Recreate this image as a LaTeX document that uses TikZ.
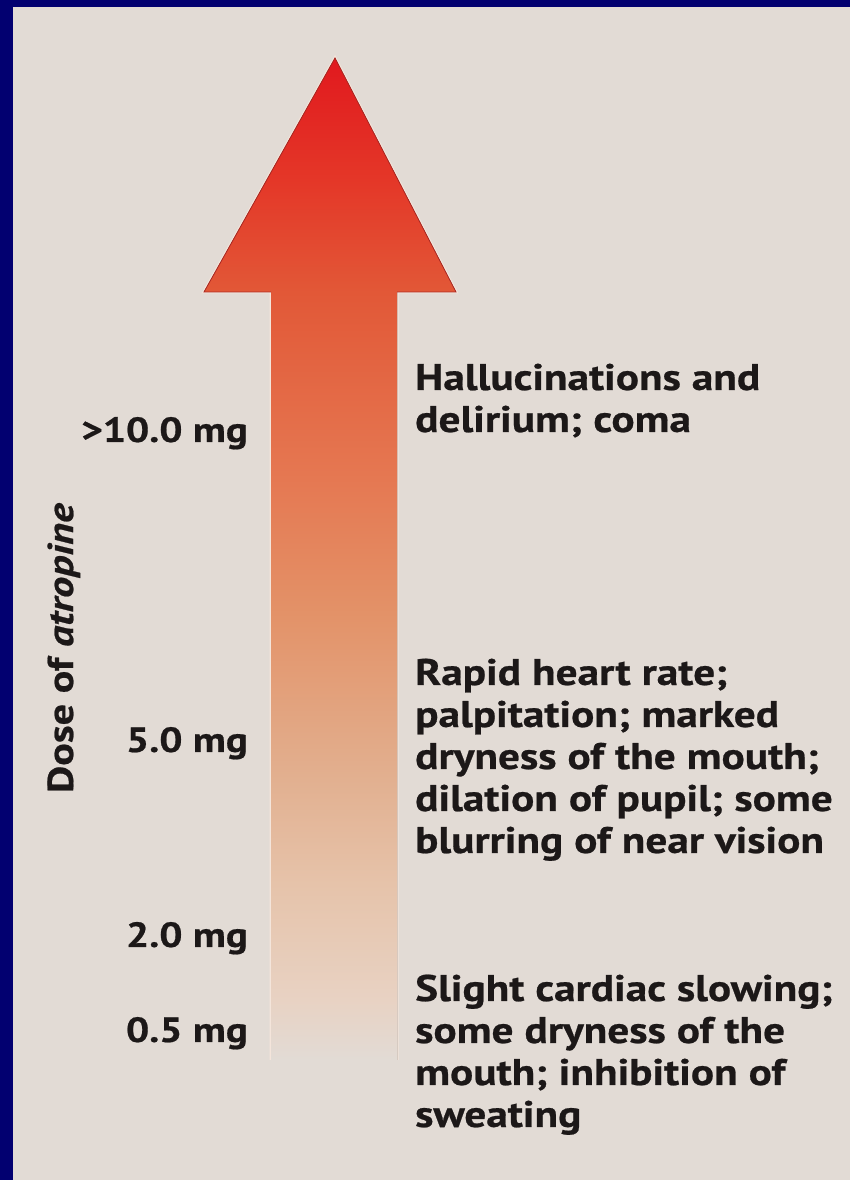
\documentclass[tikz,border=0pt]{standalone}
\usepackage{fontspec}
\setmainfont{PT Sans}[FakeStretch=1.17,BoldFeatures={FakeBold=0.6},BoldItalicFeatures={FakeBold=0.6}]
\usetikzlibrary{positioning}
\definecolor{framecolor}{RGB}{2,0,112}
\definecolor{panelcolor}{RGB}{226,219,213}
\definecolor{labelcolor}{RGB}{28,24,24}
\definecolor{halocolor}{RGB}{244,229,219}
\definecolor{edgecolor}{RGB}{170,40,35}
\definecolor{shadeA}{RGB}{232,210,195}
\definecolor{shadeB}{RGB}{230,195,170}
\definecolor{shadeC}{RGB}{226,176,144}
\definecolor{shadeD}{RGB}{227,146,104}
\definecolor{shadeE}{RGB}{229,120,82}
\definecolor{shadeF}{RGB}{226,88,55}
\definecolor{shadeG}{RGB}{228,55,40}
\definecolor{tipcolor}{RGB}{225,25,30}
\pgfdeclareverticalshading{doseshade}{100bp}{
  color(0bp)=(panelcolor); color(25bp)=(panelcolor);
  color(28bp)=(shadeA); color(33.8bp)=(shadeB);
  color(39bp)=(shadeC); color(47.3bp)=(shadeD);
  color(54bp)=(shadeE); color(63.3bp)=(shadeF);
  color(68.9bp)=(shadeG); color(75bp)=(tipcolor);
  color(100bp)=(tipcolor)
}
\tikzset{
doselabel/.style={
  anchor=base east,
  inner sep=0pt,
  font=\bfseries\fontsize{35}{42}\selectfont,
  text=labelcolor
},
effectlabel/.style={
  anchor=base west,
  inner sep=0pt,
  align=left,
  font=\bfseries\fontsize{37}{42}\selectfont,
  text=labelcolor
},
axislabel/.style={
  anchor=base,
  rotate=90,
  inner sep=0pt,
  font=\bfseries\fontsize{36}{40}\selectfont,
  text=labelcolor
},
halo/.style={
  draw=halocolor,
  line width=3pt,
  line join=miter
},
headedge/.style={
  draw=edgecolor,
  line width=0.8pt
}
}

\begin{document}
\begin{tikzpicture}[x=1pt,y=1pt]

% ============================================================================
% Fundo
% ============================================================================
\useasboundingbox (0,0) rectangle (850,1180);
\fill[framecolor] (0,0) rectangle (850,1180);
\fill[panelcolor] (13,0) rectangle (850,1173);

% ============================================================================
% Seta da dose
% ============================================================================
\draw[halo] (271,120) -- (271,888) -- (204,888) -- (335,1122) -- (456,888) -- (397,888) -- (397,120);
\fill[shading=doseshade] (271,120) -- (271,888) -- (204,888) -- (335,1122)
  -- (456,888) -- (397,888) -- (397,120) -- cycle;
\draw[headedge] (271,888) -- (204,888) -- (335,1122) -- (456,888) -- (397,888);

% ============================================================================
% Doses
% ============================================================================
\node[axislabel] (doseaxis) at (73,532) {Dose of \textit{atropine}};
\node[doselabel] (dose10) at (248,738) {>10.0 mg};
\node[doselabel] (dose5) at (248,428) {5.0 mg};
\node[doselabel] (dose2) at (248,233) {2.0 mg};
\node[doselabel] (dose05) at (248,138) {0.5 mg};

% ============================================================================
% Efeitos (ancora na linha de base da ultima linha)
% ============================================================================
\node[effectlabel] (effect10) at (415,748) {Hallucinations and\\delirium; coma};
\node[effectlabel] (effect5) at (415,327) {Rapid heart rate;\\palpitation; marked\\dryness of the mouth;\\dilation of pupil; some\\blurring of near vision};
\node[effectlabel] (effect05) at (415,53) {Slight cardiac slowing;\\some dryness of the\\mouth; inhibition of\\sweating};

\end{tikzpicture}
\end{document}
